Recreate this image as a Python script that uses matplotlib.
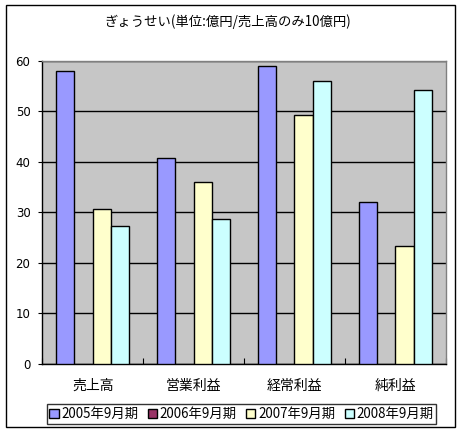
import matplotlib
matplotlib.use("Agg")
import matplotlib.pyplot as plt
import numpy as np
from matplotlib.patches import Rectangle

plt.rcParams['font.family'] = ['Noto Sans CJK JP', 'DejaVu Sans']

categories = ['売上高', '営業利益', '経常利益', '純利益']
series_names = ['2005年9月期', '2006年9月期', '2007年9月期', '2008年9月期']
v2005 = [58.1, 40.7, 59.1, 32.0]
v2006 = [np.nan, np.nan, np.nan, np.nan]
v2007 = [30.6, 36.1, 49.2, 23.3]
v2008 = [27.2, 28.7, 56.0, 54.2]
colors = ['#9999FF', '#993366', '#FFFFCC', '#CCFFFF']
title = 'ぎょうせい(単位:億円/売上高のみ10億円)'
yticks = [0, 10, 20, 30, 40, 50, 60]

fig = plt.figure(figsize=(4.59, 4.32), dpi=100)
fig.patch.set_facecolor('white')
# outer frame
fig.patches.append(Rectangle((5.5/459, 1 - 426.5/432), (454.5 - 5.5)/459, (426.5 - 5)/432,
                             transform=fig.transFigure, fill=False, edgecolor='black',
                             linewidth=1.0))

ax = fig.add_axes([42.3/459, 1 - 363.7/432, (445.7 - 42.3)/459, (363.7 - 61)/432])
ax.set_facecolor('#C6C6C6')

data = [v2005, v2006, v2007, v2008]
n = len(categories)
w = 1 / 5.5
x = np.arange(n)
for i, (vals, c, name) in enumerate(zip(data, colors, series_names)):
    pos = x - 2 * w + w / 2 + i * w
    ax.bar(pos, vals, width=w, color=c, edgecolor='black', linewidth=1.0,
           label=name, zorder=3)

ax.set_xlim(-0.5, n - 0.5)
ax.set_ylim(0, 60)
ax.set_yticks(yticks)
ax.yaxis.grid(True, color='black', linewidth=1.0, zorder=1)
ax.set_axisbelow(True)
ax.set_xticks(x)
ax.set_xticklabels(categories, fontsize=10)
ax.set_xticks(np.arange(n + 1) - 0.5, minor=True)
ax.tick_params(axis='x', which='major', length=0, pad=11)
ax.tick_params(axis='x', which='minor', length=4, direction='in', width=0.8)
ax.tick_params(axis='y', length=3, direction='out', width=0.8, labelsize=8.5, pad=5.5)
for t in ax.get_yticklabels():
    t.set_family(['DejaVu Sans'])

ax.spines['left'].set_color('black')
ax.spines['bottom'].set_color('black')
ax.spines['top'].set_color('#808080')
ax.spines['right'].set_color('#808080')
for s in ax.spines.values():
    s.set_linewidth(1.0)

fig.text(228 / 459, 1 - 22 / 432, title, ha='center', va='center', fontsize=9.6)

leg = fig.legend(loc='center', bbox_to_anchor=(241.5 / 459, 1 - 414 / 432), ncol=4,
                 fontsize=9.6, frameon=True, fancybox=False, edgecolor='black',
                 handlelength=0.7, handleheight=0.7, handletextpad=0.2,
                 columnspacing=0.7, borderpad=0.2, borderaxespad=0)
leg.get_frame().set_linewidth(1.0)

fig.savefig('out.png', dpi=100)
